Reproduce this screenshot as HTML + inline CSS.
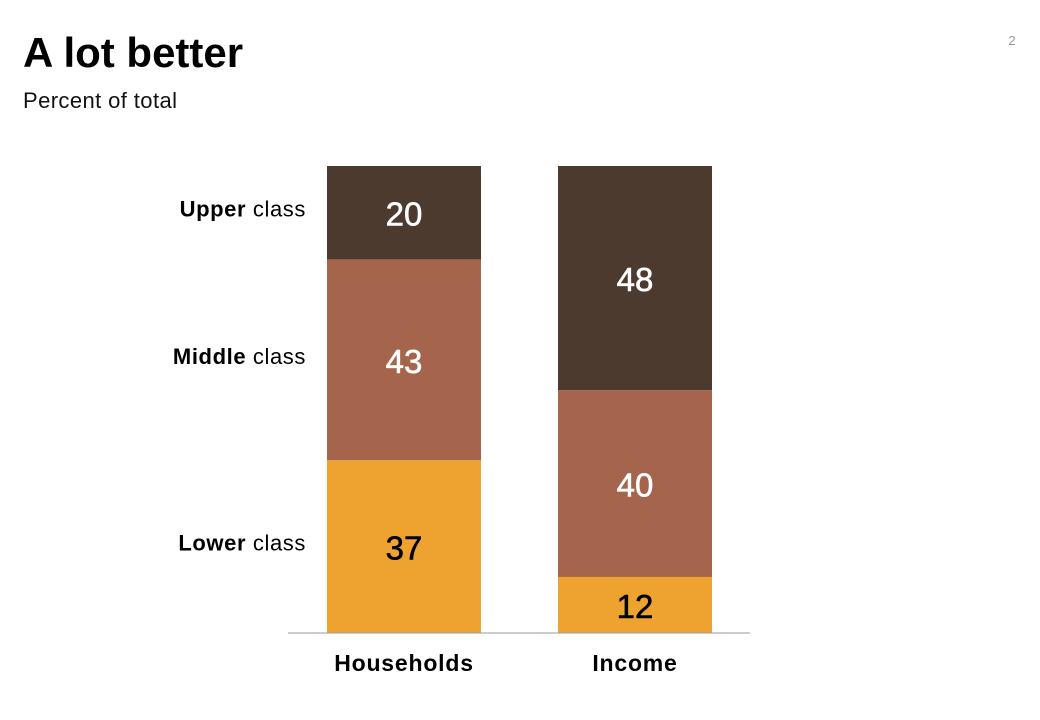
<!DOCTYPE html>
<html><head><meta charset="utf-8"><style>
body{margin:0;width:1040px;height:720px;background:#fff;font-family:"Liberation Sans",Arial,sans-serif;overflow:hidden}
svg{display:block}
</style></head><body>
<svg width="1040" height="720">
<text x="23" y="67" font-size="42" font-weight="bold" fill="#000">A lot better</text>
<text x="23" y="108" font-size="22" fill="#111" letter-spacing="0.4">Percent of total</text>
<text x="1012" y="45" font-size="13" fill="#999" text-anchor="middle">2</text>
<g id="bars"></g>
<line x1="288" y1="633" x2="750" y2="633" stroke="#999" stroke-width="1"/>
</svg>
<script>
const categories = ["Households", "Income"];
const classes = ["Lower", "Middle", "Upper"];
const lowerVals = [37, 12];
const middleVals = [43, 40];
const upperVals = [20, 48];
const colors = ["#eea330", "#a5644c", "#4d3a2f"];
const textColors = ["#000", "#fff", "#fff"];
const ns = "http://www.w3.org/2000/svg";
const g = document.getElementById("bars");
const baseY = 633, topY = 166, barW = 154;
const xPos = i => 327 + i * 231;
const yScale = v => (baseY - topY) * v / 100;
const series = [lowerVals, middleVals, upperVals];
function mk(tag, attrs){const e=document.createElementNS(ns,tag);for(const k in attrs)e.setAttribute(k,attrs[k]);return e;}
categories.forEach((c, i) => {
  let y = baseY;
  series.forEach((s, j) => {
    const h = yScale(s[i]);
    const r = mk("rect", {x: xPos(i), y: y - h, width: barW, height: h, fill: colors[j]});
    
    
    g.appendChild(r);
    const t = mk("text", {x: xPos(i) + barW / 2, y: y - h / 2 + 13, "font-size": 33, fill: textColors[j], "text-anchor": "middle", stroke: textColors[j], "stroke-width": 0.6});
    t.textContent = s[i];
    
    
    g.appendChild(t);
    if (i === 0) {
      const l = mk("text", {x: 306, y: y - h / 2 + 4, "font-size": 22, fill: "#000", "text-anchor": "end", "letter-spacing": 0.6});
      l.innerHTML = '<tspan font-weight="bold">' + classes[j] + '</tspan> class';
      
      
      g.appendChild(l);
    }
    y -= h;
  });
  const cl = mk("text", {x: xPos(i) + barW / 2, y: 671, "font-size": 23, "font-weight": "bold", fill: "#000", "text-anchor": "middle", "letter-spacing": 0.8});
  cl.textContent = c;
  
  
  g.appendChild(cl);
});
</script>
</body></html>
